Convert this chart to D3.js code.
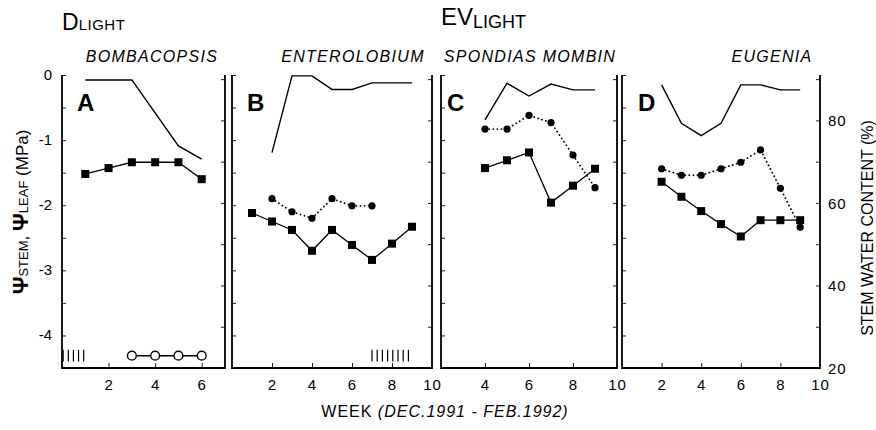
<!DOCTYPE html>
<html>
<head>
<meta charset="utf-8">
<script src="https://cdn.jsdelivr.net/npm/d3@7"></script>
<style>
  html, body { margin: 0; padding: 0; background: #fff; }
  svg { display: block; font-family: "Liberation Sans", Arial, Helvetica, sans-serif; }
</style>
</head>
<body>
<svg id="chart" width="876" height="430"></svg>
<script>
// ---------------- DATA ----------------
const panelLetters = ["A", "B", "C", "D"];
const speciesNames = ["BOMBACOPSIS", "ENTEROLOBIUM", "SPONDIAS MOMBIN", "EUGENIA"];
const psiTicks = [0, -1, -2, -3, -4];
const wcTicks = [80, 60, 40, 20];
const weekTicksA = [2, 4, 6];
const weekTicksB = [2, 4, 6, 8, 10];
const weekTicksC = [4, 6, 8, 10];
const weekTicksD = [2, 4, 6, 8, 10];

// Panel A - Bombacopsis
const wcWeeksA = [1, 3, 5, 6];
const wcA = [89.8, 89.8, 73.8, 70.6];
const sqWeeksA = [1, 2, 3, 4, 5, 6];
const sqA = [-1.52, -1.43, -1.34, -1.34, -1.34, -1.60];
const openWeeksA = [3, 4, 5, 6];
const openA = [-4.31, -4.31, -4.31, -4.31];
const hatchA = [0.05, 0.27, 0.49, 0.71, 0.93];

// Panel B - Enterolobium
const wcWeeksB = [2, 3, 4, 5, 6, 7, 9];
const wcB = [72.2, 90.8, 90.8, 87.5, 87.5, 89.1, 89.1];
const dotWeeksB = [2, 3, 4, 5, 6, 7];
const dotB = [-1.90, -2.10, -2.20, -1.90, -2.01, -2.01];
const sqWeeksB = [1, 2, 3, 4, 5, 6, 7, 8, 9];
const sqB = [-2.12, -2.25, -2.38, -2.70, -2.38, -2.61, -2.84, -2.59, -2.33];
const hatchB = [7.0, 7.26, 7.52, 7.78, 8.04, 8.3, 8.56, 8.82];

// Panel C - Spondias mombin
const wcWeeksC = [4, 5, 6, 7, 8, 9];
const wcC = [80.1, 89.0, 85.9, 88.8, 87.4, 87.4];
const dotWeeksC = [4, 5, 6, 7, 8, 9];
const dotC = [-0.83, -0.83, -0.62, -0.73, -1.23, -1.73];
const sqWeeksC = [4, 5, 6, 7, 8, 9];
const sqC = [-1.43, -1.31, -1.19, -1.96, -1.70, -1.44];

// Panel D - Eugenia
const wcWeeksD = [2, 3, 4, 5, 6, 7, 8, 9];
const wcD = [88.6, 79.3, 76.3, 79.3, 88.6, 88.6, 87.4, 87.4];
const dotWeeksD = [2, 3, 4, 5, 6, 7, 8, 9];
const dotD = [-1.44, -1.54, -1.54, -1.44, -1.34, -1.15, -1.74, -2.34];
const sqWeeksD = [2, 3, 4, 5, 6, 7, 8, 9];
const sqD = [-1.64, -1.87, -2.09, -2.29, -2.48, -2.23, -2.23, -2.23];

// ---------------- LAYOUT ----------------
const plotTop = 75, plotBottom = 368;
const yPsi = d3.scaleLinear().domain([-4.5, 0]).range([plotBottom, plotTop]);
const yWc = d3.scaleLinear().domain([20, 91]).range([plotBottom, plotTop]);

const zip = (xs, ys) => xs.map((x, i) => [x, ys[i]]);

const panels = [
  { domain: [0, 7], range: [62, 225], ticks: weekTicksA,
    wc: zip(wcWeeksA, wcA), sq: zip(sqWeeksA, sqA), dot: null, open: zip(openWeeksA, openA), hatch: hatchA },
  { domain: [0, 10], range: [232, 432], ticks: weekTicksB,
    wc: zip(wcWeeksB, wcB), sq: zip(sqWeeksB, sqB), dot: zip(dotWeeksB, dotB), open: null, hatch: hatchB },
  { domain: [2, 10], range: [441, 617], ticks: weekTicksC,
    wc: zip(wcWeeksC, wcC), sq: zip(sqWeeksC, sqC), dot: zip(dotWeeksC, dotC), open: null, hatch: null },
  { domain: [0, 10], range: [622, 820], ticks: weekTicksD,
    wc: zip(wcWeeksD, wcD), sq: zip(sqWeeksD, sqD), dot: zip(dotWeeksD, dotD), open: null, hatch: null }
];
const letterOffsets = [15, 15, 6, 16];
const nameCenters = [152, 353, 530, 772];

const svg = d3.select("#chart");
const ink = "#000";

panels.forEach((p, i) => {
  const x = d3.scaleLinear().domain(p.domain).range(p.range);
  const g = svg.append("g");

  // left inner ticks (psi, every 0.5)
  g.append("g").attr("transform", `translate(${p.range[0]},0)`)
    .call(d3.axisRight(yPsi).tickValues(d3.range(-4, 0.01, 0.5)).tickSize(4).tickFormat(""))
    .call(s => s.select(".domain").remove())
    .call(s => s.selectAll("line").attr("stroke", "#222").attr("stroke-width", 1));
  // right inner ticks (water content, every 10)
  g.append("g").attr("transform", `translate(${p.range[1]},0)`)
    .call(d3.axisLeft(yWc).tickValues(d3.range(30, 91, 10)).tickSize(4).tickFormat(""))
    .call(s => s.select(".domain").remove())
    .call(s => s.selectAll("line").attr("stroke", "#222").attr("stroke-width", 1));
  // bottom ticks
  g.append("g").attr("transform", `translate(0,${plotBottom})`)
    .call(d3.axisTop(x).tickValues(p.ticks.filter(t => t < p.domain[1])).tickSize(5).tickFormat(""))
    .call(s => s.select(".domain").remove())
    .call(s => s.selectAll("line").attr("stroke", "#222").attr("stroke-width", 1));
  // bottom tick labels
  g.append("g").attr("transform", `translate(0,${plotBottom})`)
    .call(d3.axisBottom(x).tickValues(p.ticks).tickSize(0).tickPadding(11).tickFormat(d3.format("d")))
    .call(s => s.select(".domain").remove())
    .call(s => s.selectAll("text").attr("font-size", 15).attr("fill", ink)
      .attr("font-family", "'Liberation Sans', Arial, sans-serif").attr("letter-spacing", "1px"));

  // frame (left, bottom, right)
  g.append("path")
    .attr("d", `M${p.range[0]},${plotTop}V${plotBottom}H${p.range[1]}V${plotTop}`)
    .attr("fill", "none").attr("stroke", ink).attr("stroke-width", 1.8);

  // water content line
  g.append("path").datum(p.wc)
    .attr("d", d3.line().x(d => x(d[0])).y(d => yWc(d[1])))
    .attr("fill", "none").attr("stroke", ink).attr("stroke-width", 1.4);

  // dotted circle series
  if (p.dot) {
    g.append("path").datum(p.dot)
      .attr("d", d3.line().x(d => x(d[0])).y(d => yPsi(d[1])))
      .attr("fill", "none").attr("stroke", ink).attr("stroke-width", 1.8)
      .attr("stroke-dasharray", "0.1,4").attr("stroke-linecap", "round");
    g.selectAll(".dotc").data(p.dot).enter().append("circle")
      .attr("cx", d => x(d[0])).attr("cy", d => yPsi(d[1])).attr("r", 3.6).attr("fill", ink);
  }

  // square series
  g.append("path").datum(p.sq)
    .attr("d", d3.line().x(d => x(d[0])).y(d => yPsi(d[1])))
    .attr("fill", "none").attr("stroke", ink).attr("stroke-width", 1.3);
  g.selectAll(".sq").data(p.sq).enter().append("rect")
    .attr("x", d => x(d[0]) - 4).attr("y", d => yPsi(d[1]) - 4)
    .attr("width", 8).attr("height", 8).attr("fill", ink);

  // open circle series
  if (p.open) {
    g.append("path").datum(p.open)
      .attr("d", d3.line().x(d => x(d[0])).y(d => yPsi(d[1])))
      .attr("fill", "none").attr("stroke", ink).attr("stroke-width", 1.5);
    g.selectAll(".oc").data(p.open).enter().append("circle")
      .attr("cx", d => x(d[0])).attr("cy", d => yPsi(d[1])).attr("r", 4.4)
      .attr("fill", "#fff").attr("stroke", ink).attr("stroke-width", 1.4);
  }

  // hatch marks
  if (p.hatch) {
    g.selectAll(".h").data(p.hatch).enter().append("line")
      .attr("x1", d => x(d)).attr("x2", d => x(d))
      .attr("y1", yPsi(-4.22)).attr("y2", yPsi(-4.4))
      .attr("stroke", ink).attr("stroke-width", 1.2);
  }

  // panel letter
  g.append("text").attr("x", p.range[0] + letterOffsets[i]).attr("y", 111)
    .attr("font-size", 24).attr("font-weight", "bold").attr("fill", ink)
    .text(panelLetters[i]);

  // species name
  svg.append("text").attr("x", nameCenters[i]).attr("y", 62)
    .attr("text-anchor", "middle").attr("font-size", 16).attr("font-style", "italic")
    .attr("letter-spacing", "1.3px").attr("fill", ink)
    .text(speciesNames[i]);
});

// left axis labels (panel A)
svg.append("g").selectAll("text").data(psiTicks).enter().append("text")
  .attr("x", 52).attr("y", d => yPsi(d) + 5)
  .attr("text-anchor", "end").attr("font-size", 15).attr("fill", ink)
  .text(d => d === 0 ? "0" : "-" + Math.abs(d));

// right axis labels (panel D)
svg.append("g").selectAll("text").data(wcTicks).enter().append("text")
  .attr("x", 828).attr("y", d => yWc(d) + 6)
  .attr("font-size", 15).attr("fill", ink).attr("letter-spacing", "1px")
  .text(d => d);

// titles
const t1 = svg.append("text").attr("x", 62).attr("y", 30).attr("fill", ink);
t1.append("tspan").attr("font-size", 23).text("D");
t1.append("tspan").attr("font-size", 15).attr("letter-spacing", "0.5px").text("LIGHT");

const t2 = svg.append("text").attr("x", 441).attr("y", 25).attr("fill", ink);
t2.append("tspan").attr("font-size", 24).text("EV");
t2.append("tspan").attr("font-size", 18).attr("dy", 3).text("LIGHT");

// y label left
const yl = svg.append("text")
  .attr("transform", "translate(28,212) rotate(-90)")
  .attr("text-anchor", "middle").attr("fill", ink);
yl.append("tspan").attr("font-size", 22).attr("font-weight", "bold").text("Ψ");
yl.append("tspan").attr("font-size", 13).text("STEM");
yl.append("tspan").attr("font-size", 17).text(", ");
yl.append("tspan").attr("font-size", 22).attr("font-weight", "bold").text("Ψ");
yl.append("tspan").attr("font-size", 13).text("LEAF");
yl.append("tspan").attr("font-size", 17).text(" (MPa)");

// y label right
svg.append("text")
  .attr("transform", "translate(873,228) rotate(-90)")
  .attr("text-anchor", "middle").attr("font-size", 16).attr("fill", ink)
  .text("STEM WATER CONTENT (%)");

// x label
const xl = svg.append("text").attr("x", 445).attr("y", 417)
  .attr("text-anchor", "middle").attr("font-size", 16).attr("fill", ink).attr("letter-spacing", "1px");
xl.append("tspan").text("WEEK ");
xl.append("tspan").attr("font-style", "italic").text("(DEC.1991 - FEB.1992)");
</script>
</body>
</html>
